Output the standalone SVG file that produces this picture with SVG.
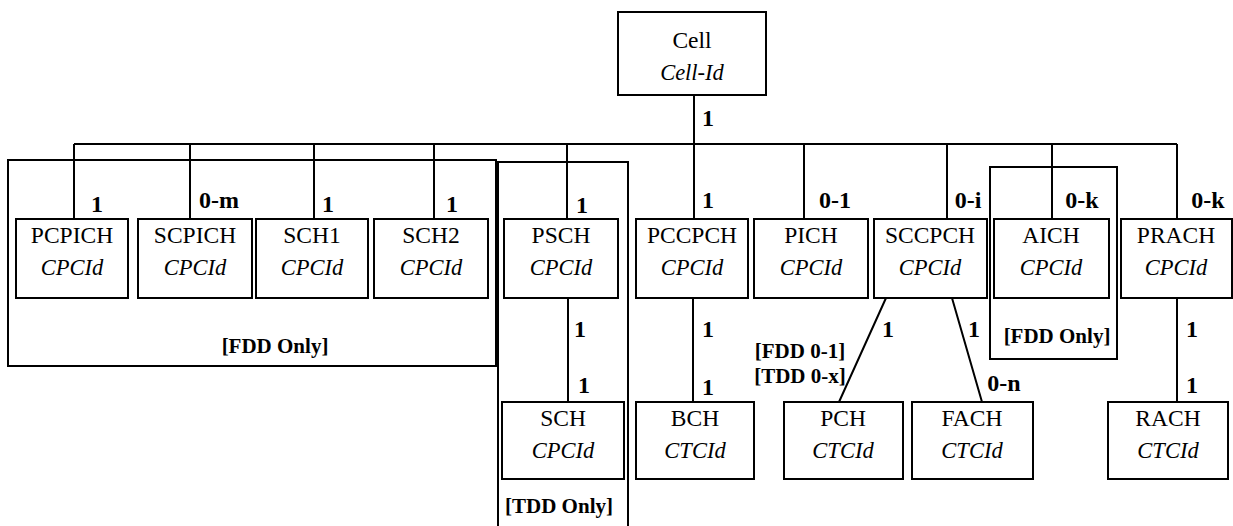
<svg xmlns="http://www.w3.org/2000/svg" width="1233" height="526" viewBox="0 0 1233 526">
<style>
.box{fill:#fff;stroke:#000;stroke-width:2}
.grp{fill:none;stroke:#000;stroke-width:2}
.ln{stroke:#000;stroke-width:2;fill:none}
.nm{font-family:"Liberation Serif","Times New Roman",serif;font-size:23.5px;text-anchor:middle;fill:#000}
.id{font-family:"Liberation Serif","Times New Roman",serif;font-size:22.5px;font-style:italic;text-anchor:middle;fill:#000}
.lb{font-family:"Liberation Serif","Times New Roman",serif;font-size:21px;font-weight:bold;text-anchor:middle;fill:#000}
.mu{font-family:"Liberation Serif","Times New Roman",serif;font-size:24px;font-weight:bold;text-anchor:middle;fill:#000}
</style>
<rect width="1233" height="526" fill="#fff"/>
<g id="groups">
<rect class="grp" x="8" y="160" width="488" height="206"/>
<text class="lb" x="275" y="353">[FDD Only]</text>
<rect class="grp" x="498" y="162" width="130" height="370"/>
<text class="lb" x="559" y="513">[TDD Only]</text>
<rect class="grp" x="990" y="167" width="127" height="192"/>
<text class="lb" x="1057" y="343">[FDD Only]</text>
</g>
<g id="connectors">
<path class="ln" d="M694 95V219M74 144H1177M74 144V219M190 144V219M314 144V219M434 144V219M567 144V219M804 144V219M947 144V219M1052 144V219M1177 144V219"/>
<path class="ln" d="M568 298V402M693 298V402M1177 298V402M886 298L839 402M952 298L982 402"/>
<text class="mu" x="708" y="126">1</text>
<text class="mu" x="97" y="212">1</text>
<text class="mu" x="219" y="208">0-m</text>
<text class="mu" x="328" y="212">1</text>
<text class="mu" x="452" y="212">1</text>
<text class="mu" x="582" y="213">1</text>
<text class="mu" x="708" y="208">1</text>
<text class="mu" x="835" y="208">0-1</text>
<text class="mu" x="968" y="208">0-i</text>
<text class="mu" x="1082" y="208">0-k</text>
<text class="mu" x="1208" y="208">0-k</text>
<text class="mu" x="580" y="337">1</text>
<text class="mu" x="584" y="393">1</text>
<text class="mu" x="708" y="337">1</text>
<text class="mu" x="708" y="395">1</text>
<text class="mu" x="888" y="337">1</text>
<text class="mu" x="974" y="337">1</text>
<text class="mu" x="1004" y="391">0-n</text>
<text class="mu" x="1192" y="337">1</text>
<text class="mu" x="1192" y="393">1</text>
<text class="lb" x="800" y="358">[FDD 0-1]</text>
<text class="lb" x="800" y="383">[TDD 0-x]</text>
</g>
<g id="cell"><rect class="box" x="618" y="12" width="148" height="83"/><text class="nm" x="692" y="48">Cell</text><text class="id" x="692" y="80">Cell-Id</text></g>
<g id="pcpich"><rect class="box" x="16" y="219" width="112" height="79"/><text class="nm" x="72" y="243">PCPICH</text><text class="id" x="72" y="275">CPCId</text></g>
<g id="scpich"><rect class="box" x="138" y="219" width="114" height="79"/><text class="nm" x="195" y="243">SCPICH</text><text class="id" x="195" y="275">CPCId</text></g>
<g id="sch1"><rect class="box" x="256" y="219" width="112" height="79"/><text class="nm" x="312" y="243">SCH1</text><text class="id" x="312" y="275">CPCId</text></g>
<g id="sch2"><rect class="box" x="374" y="219" width="114" height="79"/><text class="nm" x="431" y="243">SCH2</text><text class="id" x="431" y="275">CPCId</text></g>
<g id="psch"><rect class="box" x="504" y="219" width="114" height="79"/><text class="nm" x="561" y="243">PSCH</text><text class="id" x="561" y="275">CPCId</text></g>
<g id="pccpch"><rect class="box" x="636" y="219" width="112" height="79"/><text class="nm" x="692" y="243">PCCPCH</text><text class="id" x="692" y="275">CPCId</text></g>
<g id="pich"><rect class="box" x="754" y="219" width="114" height="79"/><text class="nm" x="811" y="243">PICH</text><text class="id" x="811" y="275">CPCId</text></g>
<g id="sccpch"><rect class="box" x="874" y="219" width="113" height="79"/><text class="nm" x="930" y="243">SCCPCH</text><text class="id" x="930" y="275">CPCId</text></g>
<g id="aich"><rect class="box" x="994" y="219" width="115" height="79"/><text class="nm" x="1051" y="243">AICH</text><text class="id" x="1051" y="275">CPCId</text></g>
<g id="prach"><rect class="box" x="1121" y="219" width="111" height="79"/><text class="nm" x="1176" y="243">PRACH</text><text class="id" x="1176" y="275">CPCId</text></g>
<g id="sch"><rect class="box" x="502" y="402" width="122" height="77"/><text class="nm" x="563" y="426">SCH</text><text class="id" x="563" y="458">CPCId</text></g>
<g id="bch"><rect class="box" x="636" y="402" width="118" height="77"/><text class="nm" x="695" y="426">BCH</text><text class="id" x="695" y="458">CTCId</text></g>
<g id="pch"><rect class="box" x="784" y="402" width="119" height="77"/><text class="nm" x="843" y="426">PCH</text><text class="id" x="843" y="458">CTCId</text></g>
<g id="fach"><rect class="box" x="912" y="402" width="121" height="77"/><text class="nm" x="972" y="426">FACH</text><text class="id" x="972" y="458">CTCId</text></g>
<g id="rach"><rect class="box" x="1108" y="402" width="120" height="77"/><text class="nm" x="1168" y="426">RACH</text><text class="id" x="1168" y="458">CTCId</text></g>
</svg>
